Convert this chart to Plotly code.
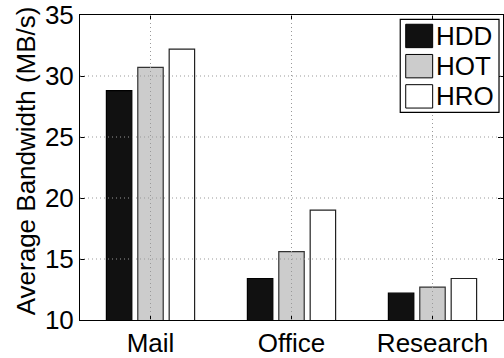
import plotly.graph_objects as go

# Average bandwidth per workload trace, one series per storage scheme
categories = ["Mail", "Office", "Research"]
series_names = ["HDD", "HOT", "HRO"]
hdd = [28.8, 13.4, 12.2]
hot = [30.7, 15.6, 12.7]
hro = [32.2, 19.0, 13.4]
y_ticks = [10, 15, 20, 25, 30, 35]

fills = ["#111111", "#cccccc", "#ffffff"]
edges = ["#000000", "#333333", "#222222"]

W, H = 504, 358
M_L, M_R, M_T, M_B = 80, 0, 13, 32
FONT = "Liberation Sans, Arial, Helvetica, sans-serif"
FS = 26

fig = go.Figure()
for name, vals, fc, ec in zip(series_names, [hdd, hot, hro], fills, edges):
    fig.add_trace(go.Bar(
        x=categories, y=vals, name=name,
        marker=dict(color=fc, line=dict(color=ec, width=1.2)),
        showlegend=False,
    ))

# Dotted grid drawn over the bars
grid_style = dict(color="#999999", width=1, dash="1px,3px")
for v in y_ticks[1:-1]:
    fig.add_shape(type="line", xref="paper", yref="y", x0=0, x1=1, y0=v, y1=v,
                  line=grid_style, layer="above")
for c in categories:
    fig.add_shape(type="line", xref="x", yref="paper", x0=c, x1=c, y0=0, y1=1,
                  line=grid_style, layer="above")

# Boxed legend with large swatches, laid out in pixels
pw = W - M_L - M_R
ph = H - M_T - M_B


def px_x(px):
    return (px - M_L) / pw


def px_y(py):
    return (H - M_B - py) / ph


fig.add_shape(type="rect", xref="paper", yref="paper",
              x0=px_x(401), x1=px_x(500), y0=px_y(113), y1=px_y(17.5),
              line=dict(color="#000000", width=1.2), fillcolor="#ffffff", layer="above")
row_top = 22.5
row_step = 31
sw_h = 24
for i, (name, fc, ec) in enumerate(zip(series_names, fills, edges)):
    top = row_top + i * row_step
    fig.add_shape(type="rect", xref="paper", yref="paper",
                  x0=px_x(406.5), x1=px_x(433.5), y0=px_y(top + sw_h), y1=px_y(top),
                  line=dict(color="#000000", width=1), fillcolor=fc, layer="above")
    fig.add_annotation(xref="paper", yref="paper", x=px_x(435), y=px_y(top + sw_h / 2),
                       text=name, showarrow=False, xanchor="left", yanchor="middle",
                       font=dict(family=FONT, size=FS, color="#000000"))

# Y axis title
fig.add_annotation(xref="paper", yref="paper", x=px_x(26), y=px_y(163),
                   text="Average Bandwidth (MB/s)", textangle=-90, showarrow=False,
                   xanchor="center", yanchor="middle",
                   font=dict(family=FONT, size=26, color="#000000"))

fig.update_layout(
    width=W, height=H,
    margin=dict(l=M_L, r=M_R, t=M_T, b=M_B, pad=0),
    paper_bgcolor="#ffffff", plot_bgcolor="#ffffff",
    barmode="group", bargap=0.332, bargroupgap=0.19,
    font=dict(family=FONT, size=FS, color="#000000"),
)
fig.update_xaxes(
    range=[-0.5, 2.5], showgrid=False, showline=True, linecolor="#000000",
    linewidth=1, mirror="ticks", ticks="inside", ticklen=5, tickcolor="#000000",
    tickfont=dict(size=FS), zeroline=False, ticklabeloverflow="allow",
)
fig.update_yaxes(
    range=[10, 35], tickvals=y_ticks, showgrid=False, showline=True,
    linecolor="#000000", linewidth=1, mirror="ticks", ticks="inside", ticklen=5,
    tickcolor="#000000", tickfont=dict(size=FS), zeroline=False,
    ticklabelstandoff=0, ticklabeloverflow="allow",
)

fig.write_html("out.html")
